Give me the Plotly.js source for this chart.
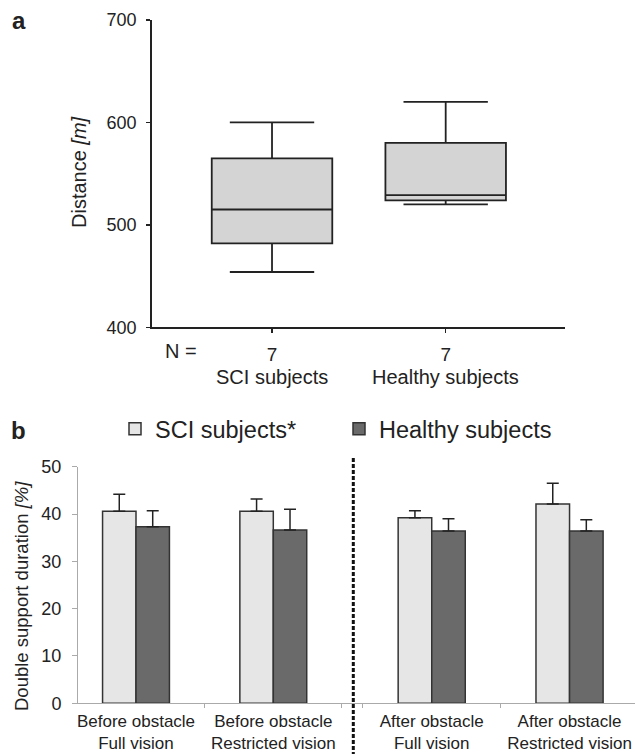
<!DOCTYPE html>
<html>
<head>
<meta charset="utf-8">
<script src="https://cdn.plot.ly/plotly-3.0.1.min.js"></script>
<style>html,body{margin:0;padding:0;background:#fff;}#chart{width:635px;height:754px;}</style>
</head>
<body>
<div id="chart"></div>
<script>
// ---- Panel a: box plot data ----
const boxCategories = ["SCI subjects", "Healthy subjects"];
const boxN = [7, 7];
const boxLower = [454, 520];
const boxQ1 = [482, 524];
const boxMedian = [515, 529];
const boxQ3 = [565, 580];
const boxUpper = [600, 620];

// ---- Panel b: bar chart data ----
const conditions = ["Before obstacle<br>Full vision", "Before obstacle<br>Restricted vision",
                    "After obstacle<br>Full vision", "After obstacle<br>Restricted vision"];
const sciMean = [40.6, 40.6, 39.2, 42.1];
const sciSD = [3.6, 2.6, 1.5, 4.4];
const healthyMean = [37.3, 36.6, 36.4, 36.4];
const healthySD = [3.4, 4.4, 2.6, 2.4];
const seriesNames = ["SCI subjects*", "Healthy subjects"];

const FONT = "Liberation Sans, Arial, sans-serif";
const TXT = "#222";
const W = 635, H = 754;
const px = v => v / W;
const py = v => 1 - v / H;

const traces = [];
traces.push({
  type: "box", x: boxCategories, q1: boxQ1, median: boxMedian, q3: boxQ3,
  lowerfence: boxLower, upperfence: boxUpper,
  xaxis: "x", yaxis: "y", width: 0.694, whiskerwidth: 0.7,
  fillcolor: "#d4d4d4", line: {color: "#222", width: 1.8},
  showlegend: false, hoverinfo: "y"
});

const halves = [[0, 2, "x2"], [2, 4, "x3"]];
halves.forEach(([a, b, xa], hi) => {
  traces.push({
    type: "bar", name: seriesNames[0], x: conditions.slice(a, b), y: sciMean.slice(a, b),
    xaxis: xa, yaxis: "y2", legendgroup: "sci", showlegend: hi === 0,
    marker: {color: "#e6e6e6", line: {color: "#333", width: 1.5}},
    error_y: {type: "data", array: sciSD.slice(a, b), arrayminus: sciSD.slice(a, b).map(() => 0),
              symmetric: false, color: "#222", thickness: 1.5, width: 6}
  });
  traces.push({
    type: "bar", name: seriesNames[1], x: conditions.slice(a, b), y: healthyMean.slice(a, b),
    xaxis: xa, yaxis: "y2", legendgroup: "healthy", showlegend: hi === 0,
    marker: {color: "#6a6a6a", line: {color: "#333", width: 1.5}},
    error_y: {type: "data", array: healthySD.slice(a, b), arrayminus: healthySD.slice(a, b).map(() => 0),
              symmetric: false, color: "#222", thickness: 1.5, width: 6}
  });
});

const layout = {
  width: W, height: H,
  margin: {l: 0, r: 0, t: 0, b: 0},
  paper_bgcolor: "#fff", plot_bgcolor: "#fff",
  font: {family: FONT, color: TXT, size: 17},
  barmode: "group", bargap: 0.513, bargroupgap: 0,
  showlegend: true,
  legend: {
    orientation: "h", x: px(115), xanchor: "left", y: py(429), yanchor: "middle",
    font: {size: 23.5, color: TXT}, entrywidth: 179, entrywidthmode: "pixels",
    bgcolor: "rgba(0,0,0,0)", traceorder: "normal"
  },
  xaxis: {
    domain: [px(152), px(565)], anchor: "y", type: "category",
    range: [-0.691, 1.687], showline: true, linecolor: "#222", linewidth: 1.8,
    ticks: "outside", ticklen: 4, tickcolor: "#222", tickwidth: 1.5,
    tickvals: boxCategories, ticktext: boxN.map(String),
    tickfont: {size: 19, color: TXT}, ticklabelstandoff: 5,
    showgrid: false, zeroline: false, fixedrange: true
  },
  yaxis: {
    domain: [py(327.3), py(20)], anchor: "x", range: [400, 700],
    tickvals: [400, 500, 600, 700], showline: true, linecolor: "#222", linewidth: 1.8,
    ticks: "outside", ticklen: 4, tickcolor: "#222", tickwidth: 1.5,
    tickfont: {size: 18, color: TXT}, ticklabelstandoff: 6,
    showgrid: false, zeroline: false
  },
  xaxis2: {
    domain: [px(78), px(353.3)], anchor: "y2", type: "category",
    range: [-0.4224, 1.5827], showline: true, linecolor: "#aaa", linewidth: 1,
    ticks: "outside", tickson: "boundaries", ticklen: 4, tickcolor: "#aaa",
    tickfont: {size: 17, color: TXT}, ticklabelstandoff: 2,
    showgrid: false, zeroline: false
  },
  xaxis3: {
    domain: [px(353.3), 1], anchor: "y2", type: "category",
    range: [-0.569, 1.475], showline: true, linecolor: "#aaa", linewidth: 1,
    ticks: "outside", tickson: "boundaries", ticklen: 4, tickcolor: "#aaa",
    tickfont: {size: 17, color: TXT}, ticklabelstandoff: 2,
    showgrid: false, zeroline: false
  },
  yaxis2: {
    domain: [py(703.3), py(466.7)], anchor: "x2", range: [0, 50], dtick: 10,
    showline: true, linecolor: "#aaa", linewidth: 1,
    ticks: "outside", ticklen: 5, tickcolor: "#aaa",
    tickfont: {size: 18, color: TXT}, ticklabelstandoff: 7,
    showgrid: false, zeroline: false
  },
  shapes: [{
    type: "line", xref: "paper", yref: "paper",
    x0: px(353.3), x1: px(353.3), y0: py(458), y1: 0,
    line: {color: "#111", width: 3, dash: "4px,2px"}
  }],
  annotations: [
    {text: "<b>a</b>", xref: "paper", yref: "paper", x: px(19), y: py(20), showarrow: false,
     font: {size: 24, color: TXT}, xanchor: "center", yanchor: "middle"},
    {text: "<b>b</b>", xref: "paper", yref: "paper", x: px(18.5), y: py(430), showarrow: false,
     font: {size: 24, color: TXT}, xanchor: "center", yanchor: "middle"},
    {text: "Distance <i>[m]</i>", xref: "paper", yref: "paper", x: px(79), y: py(172), showarrow: false,
     textangle: -90, font: {size: 20, color: TXT}, xanchor: "center", yanchor: "middle"},
    {text: "Double support duration <i>[%]</i>", xref: "paper", yref: "paper", x: px(21), y: py(596),
     showarrow: false, textangle: -90, font: {size: 18.5, color: TXT}, xanchor: "center", yanchor: "middle"},
    {text: "N =", xref: "paper", yref: "paper", x: px(181), y: py(350.7), showarrow: false,
     font: {size: 20, color: TXT}, xanchor: "center", yanchor: "middle"}
  ].concat(boxCategories.map(c => ({
    text: c, xref: "x", yref: "paper", x: c, y: py(377), showarrow: false,
    font: {size: 20, color: TXT}, xanchor: "center", yanchor: "middle"
  })))
};

Plotly.newPlot("chart", traces, layout, {staticPlot: true, displayModeBar: false});
</script>
</body>
</html>
